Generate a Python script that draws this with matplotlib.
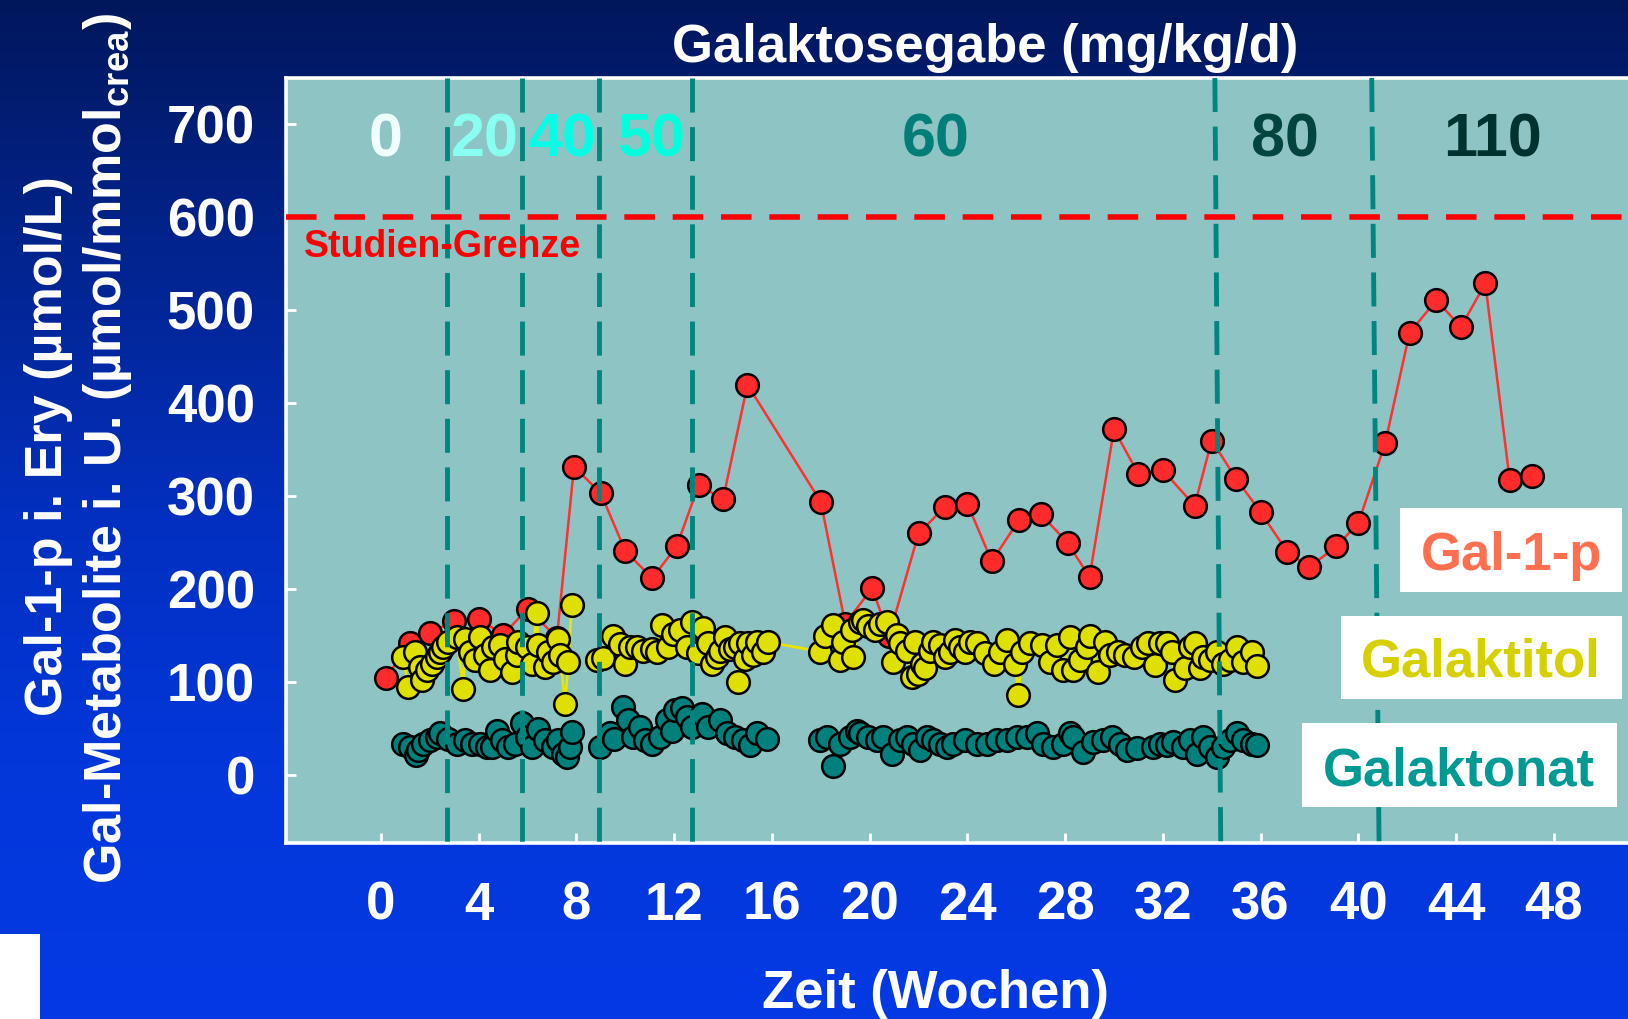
import matplotlib

matplotlib.use("Agg")
import matplotlib.pyplot as plt
import numpy as np
from matplotlib.colors import LinearSegmentedColormap
from matplotlib.patches import Rectangle

plt.rcParams["font.family"] = ["Liberation Sans", "DejaVu Sans"]
plt.rcParams["font.weight"] = "bold"
plt.rcParams["mathtext.fontset"] = "custom"
plt.rcParams["mathtext.rm"] = "Liberation Sans:bold"
plt.rcParams["mathtext.bf"] = "Liberation Sans:bold"

# Gal-1-p in erythrocytes (umol/L), roughly weekly
gal1p_weeks = [0.2, 1.2, 2.0, 3.0, 4.0, 5.0, 6.0, 7.2, 7.9, 9.0, 10.0, 11.1, 12.1,
               13.0, 14.0, 15.0, 18.0, 19.0, 20.1, 20.8, 22.0, 23.1, 24.0, 25.0,
               26.1, 27.0, 28.1, 29.0, 30.0, 31.0, 32.0, 33.3, 34.0, 35.0, 36.0,
               37.1, 38.0, 39.1, 40.0, 41.1, 42.1, 43.2, 44.2, 45.2, 46.2, 47.1]
gal1p_values = [105, 142, 153, 166, 168, 151, 179, 148, 332, 303, 241, 212, 246,
                312, 297, 420, 294, 163, 201, 150, 260, 289, 292, 230,
                274, 281, 250, 213, 372, 324, 328, 290, 360, 319, 283,
                240, 224, 246, 271, 357, 476, 511, 482, 529, 317, 322]

# Galaktitol in urine (umol/mmol crea)
galaktitol_weeks = [
    0.91, 1.12, 1.39, 1.60, 1.67, 1.87, 2.07, 2.28, 2.41, 2.55, 2.76, 3.10, 3.37,
    3.44, 3.64, 3.85, 4.05, 4.26, 4.46, 4.60, 4.87, 5.08, 5.35, 5.55, 5.62, 5.96,
    6.17, 6.37, 6.44, 6.71, 6.85, 7.05, 7.26, 7.33, 7.53, 7.67, 7.80,
    8.83, 9.10, 9.51, 9.78, 10.00, 10.19, 10.46, 10.74, 11.08, 11.28, 11.49, 11.76,
    11.97, 12.24, 12.51, 12.72, 12.99, 13.19, 13.40, 13.53, 13.74, 13.88, 14.08,
    14.29, 14.49, 14.63, 14.70, 14.90, 15.04, 15.24, 15.38, 15.65, 15.85,
    17.97, 18.17, 18.52, 18.79, 18.92, 19.27, 19.33, 19.60, 19.74, 19.95, 20.22,
    20.43, 20.70, 20.97, 21.11, 21.24, 21.52, 21.72, 21.86, 21.99, 22.13, 22.27,
    22.47, 22.61, 22.88, 23.09, 23.29, 23.50, 23.70, 23.90, 24.11, 24.38, 24.72,
    25.07, 25.34, 25.61, 25.95, 26.09, 26.22, 26.56, 27.04, 27.39, 27.66, 27.93,
    28.20, 28.34, 28.61, 28.89, 29.02, 29.36, 29.63, 29.84, 30.18, 30.45, 30.80,
    31.14, 31.41, 31.68, 31.89, 32.16, 32.36, 32.50, 32.91, 33.11, 33.32, 33.52,
    33.66, 33.94, 34.21, 34.48, 34.75, 35.02, 35.30, 35.64, 35.84]
galaktitol_values = [
    127, 95, 133, 116, 102, 113, 120, 127, 133, 138, 143, 149, 93,
    146, 133, 124, 149, 129, 113, 138, 140, 125, 111, 129, 143, 138,
    120, 174, 140, 116, 133, 122, 147, 129, 77, 122, 183,
    124, 126, 150, 141, 120, 138, 138, 134, 136, 133, 161, 138,
    152, 156, 138, 165, 131, 158, 142, 120, 127, 134, 149,
    136, 138, 100, 142, 125, 142, 129, 143, 133, 143,
    133, 150, 161, 124, 143, 156, 127, 165, 167, 160, 156,
    163, 165, 122, 151, 142, 134, 106, 143, 109, 120, 115,
    134, 143, 140, 127, 133, 145, 138, 133, 143, 142, 131,
    120, 133, 145, 120, 86, 133, 142, 140, 122, 140, 113,
    149, 113, 124, 138, 150, 111, 143, 129, 133, 129, 127,
    138, 142, 118, 142, 142, 133, 102, 115, 138, 142, 115,
    127, 124, 133, 120, 124, 138, 122, 133, 117]
galaktitol_gap_week = 8.3  # no connecting line across this sampling gap

# Galaktonat in urine (umol/mmol crea)
galaktonat_weeks = [
    0.91, 1.19, 1.45, 1.53, 1.73, 2.01, 2.28, 2.41, 2.76, 3.10, 3.44, 3.71, 4.05,
    4.32, 4.53, 4.73, 4.94, 5.21, 5.48, 5.76, 5.96, 6.17, 6.44, 6.71, 7.05, 7.26,
    7.46, 7.60, 7.74, 7.80,
    8.96, 9.37, 9.55, 9.92, 10.12, 10.33, 10.60, 10.81, 11.08, 11.42, 11.69, 11.90,
    12.03, 12.30, 12.51, 12.72, 13.13, 13.40, 13.88, 14.15, 14.49, 14.83, 15.10,
    15.38, 15.79,
    17.97, 18.24, 18.52, 18.79, 19.20, 19.47, 19.60, 19.95, 20.29, 20.56, 20.90,
    21.24, 21.52, 21.79, 22.06, 22.34, 22.61, 22.88, 23.15, 23.43, 23.90, 24.38,
    24.79, 25.20, 25.61, 26.02, 26.43, 26.84, 27.11, 27.52, 27.93, 28.20, 28.34,
    28.75, 29.16, 29.57, 29.91, 30.25, 30.52, 30.93, 31.61, 31.89, 32.16, 32.43,
    32.84, 33.11, 33.39, 33.66, 33.93, 34.21, 34.48, 34.75, 35.02, 35.30, 35.64,
    35.84]
galaktonat_values = [
    34, 30, 22, 27, 34, 38, 41, 45, 39, 34, 38, 34, 34,
    30, 30, 48, 38, 30, 34, 56, 41, 30, 50, 38, 30, 38,
    23, 20, 30, 46,
    30, 45, 39, 73, 59, 41, 52, 38, 34, 41, 59, 48,
    70, 72, 63, 52, 66, 52, 59, 45, 41, 38, 32,
    45, 39,
    38, 41, 10, 34, 41, 48, 45, 41, 38, 41, 23,
    38, 41, 34, 27, 41, 38, 34, 30, 34, 38, 34,
    34, 38, 38, 41, 41, 45, 34, 30, 34, 45, 41,
    25, 36, 38, 41, 34, 27, 29, 30, 34, 32, 36,
    30, 38, 23, 41, 30, 19, 30, 38, 45, 38, 34,
    32]

dose_labels = ["0", "20", "40", "50", "60", "80", "110"]
dose_label_weeks = [0.2, 4.26, 7.4, 11.06, 22.7, 37.0, 45.5]
dose_label_colors = ["#effffb", "#88fff0", "#00ffe6", "#00ffdc", "#007f78", "#00463f", "#00332f"]
# dose changes (week); the last two lines are drawn slightly slanted
dose_change_top = [2.72, 5.79, 8.94, 12.72, 34.13, 40.55]
dose_change_bottom = [2.72, 5.79, 8.94, 12.72, 34.37, 40.85]
study_limit = 600

x_ticks = list(range(0, 49, 4))
y_ticks = list(range(0, 701, 100))

W, H = 1628, 1019
fig = plt.figure(figsize=(W / 100, H / 100), dpi=100)

# slide background: vertical navy -> blue gradient
bg = fig.add_axes([0, 0, 1, 1], zorder=-2)
cmap = LinearSegmentedColormap.from_list(
    "slide", ["#01175c", "#02248f", "#022fbe", "#0337da", "#033ae4"])
bg.imshow(np.linspace(0, 1, 256)[:, None], aspect="auto", cmap=cmap,
          extent=[0, 1, 0, 1], origin="upper")
bg.axis("off")
fig.add_artist(Rectangle((0, 0), 40 / W, 85 / H, transform=fig.transFigure,
                         facecolor="white", edgecolor="none", zorder=1))

ax = fig.add_axes([285.5 / W, 176 / H, 1 - 285.5 / W, (843 - 78) / H], zorder=1)
ax.set_facecolor("#8fc4c4")
ax.set_xlim(-3.91, 51.04)
ax.set_ylim(-73, 750)

marker_kw = dict(marker="o", ms=16.3, mec="black", mew=1.8)
ax.plot(gal1p_weeks, gal1p_values, color="#ff3030", lw=1.8, mfc="#ff2b2b",
        zorder=3, **marker_kw)

g_w = np.array(galaktitol_weeks)
g_v = np.array(galaktitol_values)
for part in (g_w < galaktitol_gap_week, g_w >= galaktitol_gap_week):
    ax.plot(g_w[part], g_v[part], color="#e6e600", lw=2, mfc="#e0e000",
            zorder=4, **marker_kw)

ax.plot(galaktonat_weeks, galaktonat_values, ls="none", mfc="#00807c",
        zorder=5, **marker_kw)

for xt, xb in zip(dose_change_top, dose_change_bottom):
    ax.plot([xt, xb], [750, -73], color="#00857f", lw=3.5, dashes=(7, 3),
            solid_capstyle="butt", zorder=6)

ax.axhline(study_limit, color="#ff0000", lw=4, dashes=(5.5, 3.2), zorder=7)
ax.text(-3.15, 568, "Studien-Grenze", color="#ff0000", fontsize=27,
        ha="left", va="center", zorder=8)

for lab, wk, col in zip(dose_labels, dose_label_weeks, dose_label_colors):
    ax.text(wk, 682, lab, color=col, fontsize=44, ha="center", va="center", zorder=8)

for side in ("left", "bottom", "top"):
    ax.spines[side].set_color("white")
    ax.spines[side].set_linewidth(2.6)
ax.spines["right"].set_visible(False)
ax.set_xticks(x_ticks)
ax.set_yticks(y_ticks)
ax.tick_params(axis="both", direction="in", length=7, width=2, colors="white",
               labelsize=38)
ax.tick_params(axis="x", pad=27)
ax.tick_params(axis="y", pad=22)

fig.text(0.6053, 0.9389, "Galaktosegabe (mg/kg/d)", color="white", fontsize=38,
         ha="center", va="baseline")
fig.text(0.5746, 0.0108, "Zeit (Wochen)", color="white", fontsize=38,
         ha="center", va="baseline")
fig.text(0.0295, 0.5618, "Gal-1-p i. Ery (µmol/L)", color="white", fontsize=37.5,
         rotation=90, ha="center", va="center")
fig.text(0.066, 0.5603, r"Gal-Metabolite i. U. (µmol/mmol$_{\mathbf{crea}}$)",
         color="white", fontsize=37.5, rotation=90, ha="center", va="center")

# legend boxes
legend_entries = [
    ("Gal-1-p", "#ff7050", (1400, 508, 1622, 592), 1511.7, 570),
    ("Galaktitol", "#d6d000", (1341, 616, 1622, 699), 1480.8, 676.7),
    ("Galaktonat", "#009a95", (1302, 723, 1617, 807), 1459, 785),
]
for text, col, (x0, y0, x1, y1), tx, ty in legend_entries:
    fig.add_artist(Rectangle((x0 / W, 1 - y1 / H), (x1 - x0) / W, (y1 - y0) / H,
                             transform=fig.transFigure, facecolor="white",
                             edgecolor="none", zorder=5))
    fig.text(tx / W, 1 - ty / H, text, color=col, fontsize=38, ha="center",
             va="baseline", zorder=6)

fig.savefig("out.png", dpi=100)
